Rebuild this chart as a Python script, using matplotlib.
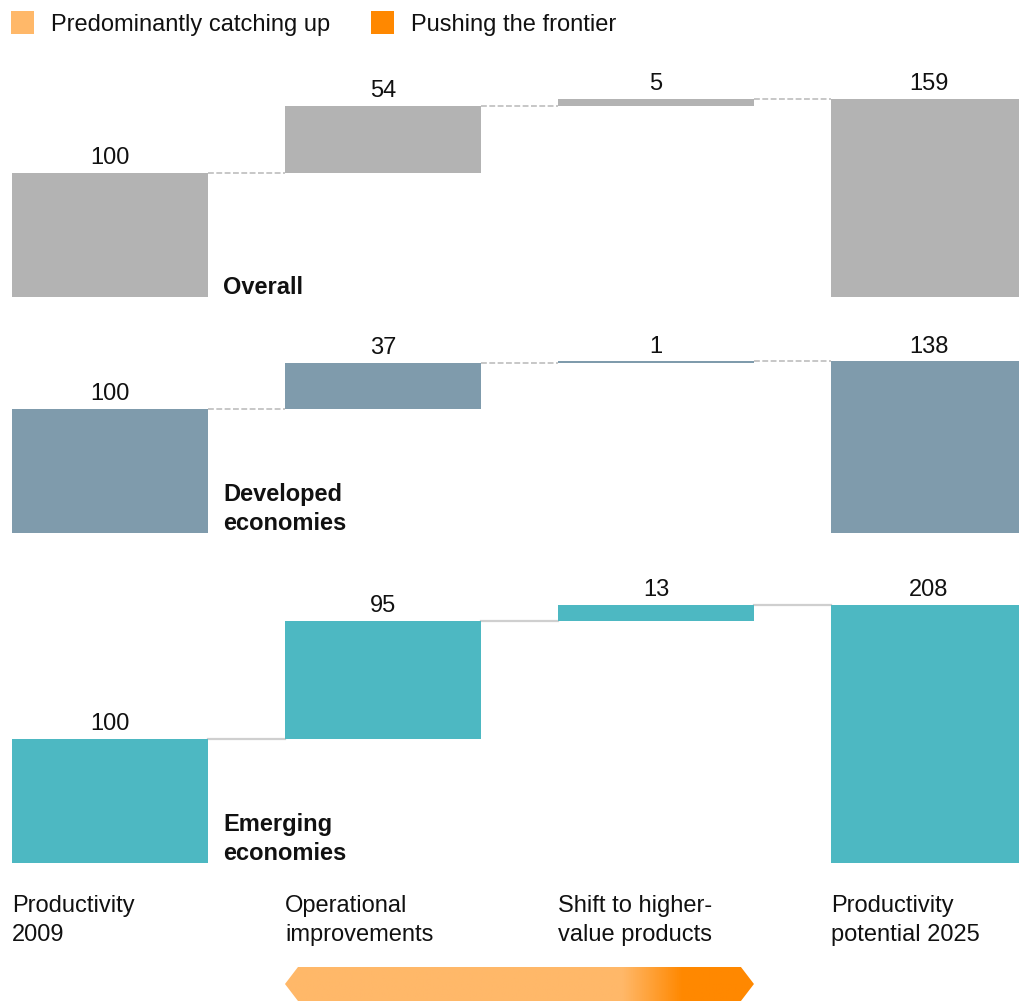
import numpy as np
import matplotlib
matplotlib.use("Agg")
import matplotlib.pyplot as plt
from matplotlib.patches import Polygon, Rectangle
from matplotlib.colors import LinearSegmentedColormap
from matplotlib.transforms import blended_transform_factory

plt.rcParams['font.family'] = ['Liberation Sans', 'DejaVu Sans']

# data
categories = ['Productivity\n2009', 'Operational\nimprovements',
              'Shift to higher-\nvalue products', 'Productivity\npotential 2025']
panels = ['Overall', 'Developed\neconomies', 'Emerging\neconomies']
productivity_2009 = [100, 100, 100]
operational = [54, 37, 95]
higher_value = [5, 1, 13]
potential_2025 = [159, 138, 208]

bar_colors = ['#B3B3B3', '#7F9BAC', '#4DB8C2']
light_orange = '#FFB869'
dark_orange = '#FF8800'

W, H = 1019, 1003
fig = plt.figure(figsize=(W / 100, H / 100), dpi=100)

PX = 1.24            # pixels per unit
XMIN, XMAX = -0.403, 3.33
BW = 0.718
FS = 17

panel_base = [297.5, 533.5, 863.5]
panel_top = [40, 300, 560]
x = np.arange(4)

axes = []
for i in range(3):
    base, top = panel_base[i], panel_top[i]
    ax = fig.add_axes([0, 1 - base / H, 1, (base - top) / H])
    ax.set_xlim(XMIN, XMAX)
    ax.set_ylim(0, (base - top) / PX)
    ax.axis('off')
    axes.append(ax)

    start = productivity_2009[i]
    op = operational[i]
    sh = higher_value[i]
    pot = potential_2025[i]
    vals = [start, op, sh, pot]
    bottoms = [0, start, start + op, 0]
    tops = [start, start + op, start + op + sh, pot]

    ax.bar(x, vals, bottom=bottoms, width=BW, color=bar_colors[i], zorder=2)

    if i < 2:
        ls, lc, lw = (0, (3.5, 1.5)), '#BDBDBD', 1.2
    else:
        ls, lc, lw = '-', '#CFCFCF', 1.6
    for j in range(3):
        ax.plot([x[j] + BW / 2, x[j + 1] - BW / 2], [tops[j], tops[j]],
                color=lc, lw=lw, linestyle=ls, zorder=1)

    for j in range(4):
        ax.annotate(str(vals[j]), (x[j], tops[j]), xytext=(0, 3.5),
                    textcoords='offset points', ha='center', va='bottom',
                    fontsize=FS, color='#111111')

    ax.annotate(panels[i], (BW / 2 + 0.055, 0), xytext=(0, -0.8),
                textcoords='offset points', ha='left', va='bottom',
                fontsize=FS, fontweight='bold', linespacing=1.3,
                color='#111111')

# category labels
tr = blended_transform_factory(axes[2].transData, fig.transFigure)
for j, cat in enumerate(categories):
    axes[2].text(x[j] - BW / 2, 1 - 895 / H, cat, transform=tr,
                 ha='left', va='top', fontsize=FS, linespacing=1.4,
                 color='#111111')

# legend
for lx, col, lab in [(11, light_orange, 'Predominantly catching up'),
                     (371, dark_orange, 'Pushing the frontier')]:
    fig.patches.append(Rectangle((lx / W, 1 - 35 / H), 23 / W, 23 / H,
                                 transform=fig.transFigure,
                                 facecolor=col, edgecolor='none'))
    fig.text((lx + 40) / W, 1 - 31 / H, lab, ha='left', va='baseline',
             fontsize=FS, color='#111111')

# gradient arrow under the middle columns
axa = fig.add_axes([0, 1 - 1002 / H, 1, 34 / H])
axa.set_xlim(XMIN, XMAX)
axa.set_ylim(0, 1)
axa.axis('off')
L, R = x[1] - BW / 2, x[2] + BW / 2
d = 13 / 273
arrow = Polygon([(L, 0.5), (L + d, 1), (R - d, 1), (R, 0.5), (R - d, 0),
                 (L + d, 0)], closed=True, facecolor='none', edgecolor='none')
axa.add_patch(arrow)
fa = (1.879 - L) / (R - L)
fb = (2.099 - L) / (R - L)
cmap = LinearSegmentedColormap.from_list(
    'grad', [(0, light_orange), (fa, light_orange), (fb, dark_orange),
             (1, dark_orange)])
im = axa.imshow(np.linspace(0, 1, 512)[None, :], cmap=cmap, aspect='auto',
                extent=(L, R, 0, 1), interpolation='bilinear')
im.set_clip_path(arrow)

fig.savefig('out.png', dpi=100)
